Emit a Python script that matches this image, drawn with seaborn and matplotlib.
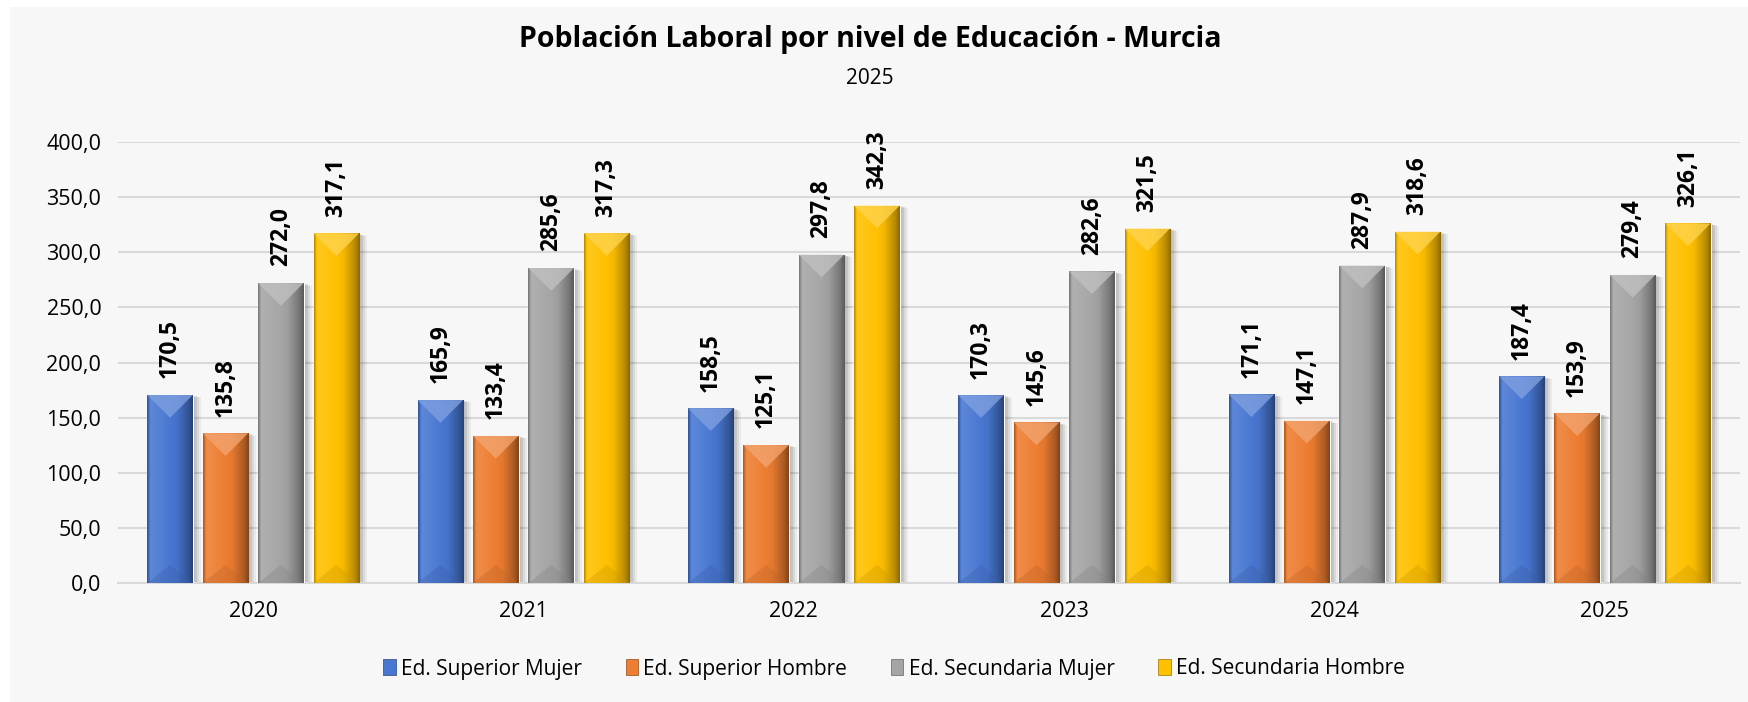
import numpy as np
import pandas as pd
import matplotlib
matplotlib.use("Agg")
import matplotlib.pyplot as plt
import matplotlib.colors as mcolors
from matplotlib.patches import Rectangle, Polygon, Patch
from matplotlib.ticker import FuncFormatter
import seaborn as sns

years = ["2020", "2021", "2022", "2023", "2024", "2025"]
series = ["Ed. Superior Mujer", "Ed. Superior Hombre", "Ed. Secundaria Mujer", "Ed. Secundaria Hombre"]
sup_mujer = [170.5, 165.9, 158.5, 170.3, 171.1, 187.4]
sup_hombre = [135.8, 133.4, 125.1, 145.6, 147.1, 153.9]
sec_mujer = [272.0, 285.6, 297.8, 282.6, 287.9, 279.4]
sec_hombre = [317.1, 317.3, 342.3, 321.5, 318.6, 326.1]
colors = ["#4877d2", "#ed7d31", "#a5a5a5", "#ffc000"]

rows = []
for name, vals in zip(series, [sup_mujer, sup_hombre, sec_mujer, sec_hombre]):
    for y, v in zip(years, vals):
        rows.append({"year": y, "serie": name, "value": v})
df = pd.DataFrame(rows)

sns.set_style("white")
plt.rcParams["font.family"] = ["Open Sans", "DejaVu Sans"]
plt.rcParams["text.color"] = "black"

W, H = 1748, 702
fig = plt.figure(figsize=(W / 100, H / 100), dpi=100)
fig.patch.set_facecolor("white")
# light grey panel behind the chart
fig.patches.append(Rectangle((10 / W, 0), 1, 1 - 7 / H, transform=fig.transFigure,
                             facecolor="#f7f7f7", edgecolor="none", zorder=-5))

ax = fig.add_axes([118 / W, 1 - 583 / H, (1740 - 118) / W, (583 - 142) / H])
ax.set_facecolor("none")
ax.set_zorder(2)

sns.barplot(data=df, x="year", y="value", hue="serie", palette=colors,
            width=0.82, gap=0.18, saturation=1, legend=False, ax=ax, zorder=3)

ax.set_xlim(-0.5, 5.5)
ax.set_ylim(0, 400)
ax.set_yticks(np.arange(0, 401, 50))
ax.yaxis.set_major_formatter(FuncFormatter(lambda v, p: f"{v:.1f}".replace(".", ",")))
ax.grid(axis="y", color="#d9d9d9", lw=1.5, zorder=0)
ax.set_axisbelow(True)
for s in ["top", "right", "left"]:
    ax.spines[s].set_visible(False)
ax.spines["bottom"].set_color("#d9d9d9")
ax.spines["bottom"].set_linewidth(1.5)
ax.tick_params(axis="both", length=0, labelsize=15.5, colors="black")
ax.tick_params(axis="y", pad=12)
ax.tick_params(axis="x", pad=13)
ax.set_xlabel("")
ax.set_ylabel("")

# pixel -> data scale for the bevel decorations
px_x = 6.0 / (1740 - 118)
px_y = 400.0 / (583 - 142)


def shade(c, f):
    r = np.array(mcolors.to_rgb(c))
    if f >= 1:
        return r + (1 - r) * (f - 1)
    return r * f


pos = [0.0, 0.07, 0.3, 0.65, 0.9, 1.0]
fac = [0.72, 1.12, 1.06, 0.96, 0.72, 0.55]
xs = np.linspace(0, 1, 64)

for cont, col in zip(ax.containers, colors):
    grad = np.array([shade(col, np.interp(t, pos, fac)) for t in xs])
    grad = np.clip(grad, 0, 1)[None, :, :]
    for bar in cont:
        x0, w, h = bar.get_x(), bar.get_width(), bar.get_height()
        # soft shadow on the right
        for k, a in [(8, 0.05), (6, 0.07), (4, 0.09), (2, 0.12)]:
            ax.add_patch(Rectangle((x0 + k * px_x, 0), w, h - k * 0.3 * px_y,
                                   facecolor="black", alpha=a, edgecolor="none", zorder=2.5))
        im = ax.imshow(grad, extent=[x0, x0 + w, 0, h], aspect="auto", zorder=3.1,
                       interpolation="bilinear")
        im.set_clip_path(bar)
        d = (w / px_x) / 2 * px_y
        top = Polygon([(x0, h), (x0 + w, h), (x0 + w / 2, h - d)], closed=True,
                      facecolor=np.clip(shade(col, 1.3), 0, 1), edgecolor="none",
                      alpha=0.8, zorder=3.2)
        ax.add_patch(top)
        bot = Polygon([(x0, 0), (x0 + w, 0), (x0 + w / 2, d * 0.8)], closed=True,
                      facecolor=shade(col, 0.8), edgecolor="none", alpha=0.35, zorder=3.2)
        ax.add_patch(bot)

ax.set_xlim(-0.5, 5.5)
ax.set_ylim(0, 400)

for cont in ax.containers:
    labels = [f"{b.get_height():.1f}".replace(".", ",") for b in cont]
    ax.bar_label(cont, labels=labels, rotation=90, padding=12, fontsize=16.5,
                 fontweight="bold", color="black", zorder=5, clip_on=False)

fig.text(870 / W, 1 - 39 / H, "Población Laboral por nivel de Educación - Murcia",
         ha="center", va="center", fontsize=20.5, fontweight="bold", color="black")
fig.text(870 / W, 1 - 78 / H, "2025", ha="center", va="center", fontsize=15, color="black")

handles = [Patch(facecolor=c, edgecolor=shade(c, 0.6), lw=0.5) for c in colors]
fig.legend(handles, series, loc="center", bbox_to_anchor=(894 / W, 1 - 669 / H),
           ncol=4, frameon=False, fontsize=15, handlelength=0.6, handleheight=0.8,
           handletextpad=0.25, columnspacing=2.1, labelcolor="black")

fig.savefig("out.png", dpi=100, facecolor=fig.get_facecolor())
